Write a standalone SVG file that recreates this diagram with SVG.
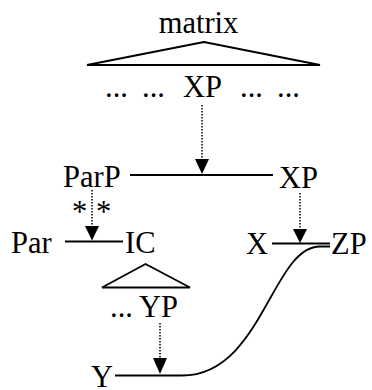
<svg xmlns="http://www.w3.org/2000/svg" width="372" height="390" viewBox="0 0 372 390">
<style>
text{font-family:"Liberation Serif","Times New Roman",serif;font-size:30.5px;fill:#000}
.ln{fill:none;stroke:#000;stroke-width:1.8}
.dot{fill:none;stroke:#000;stroke-width:1.5;stroke-dasharray:1.5 1.5}
.hd{fill:#000}
</style>
<rect width="372" height="390" fill="#fff"/>
<g id="matrix">
<text x="198.5" y="33" text-anchor="middle">matrix</text>
<polygon class="ln" points="204,42 87,65 320,65"/>
</g>
<g id="xp-top">
<text y="97"><tspan x="105">...</tspan><tspan x="142">...</tspan><tspan x="183">XP</tspan><tspan x="240">...</tspan><tspan x="277">...</tspan></text>
</g>
<g id="parp"><text x="63" y="187">ParP</text></g>
<g id="xp-mid"><text x="279" y="188">XP</text></g>
<g id="stars"><text x="72" y="222">*</text><text x="96" y="222">*</text></g>
<g id="par"><text x="11" y="253">Par</text></g>
<g id="ic">
<text x="125" y="253">IC</text>
<polygon class="ln" points="145.5,264 102,287.5 190,287.5"/>
</g>
<g id="x"><text x="246" y="254">X</text></g>
<g id="zp"><text x="331" y="254">ZP</text></g>
<g id="yp"><text y="317"><tspan x="110">...</tspan><tspan x="139">YP</tspan></text></g>
<g id="y"><text x="91" y="387">Y</text></g>
<g id="connectors">
<line class="ln" x1="130" y1="175" x2="273" y2="175"/>
<line class="ln" x1="65" y1="241.5" x2="123" y2="241.5"/>
<line class="ln" x1="272" y1="243.5" x2="330" y2="243.5"/>
<path class="ln" d="M115,375.5 L182,375.5 C262,375.5 272,246.5 320,246.5 L330,246.5"/>
<line class="dot" x1="202" y1="105" x2="202" y2="160"/>
<polygon class="hd" points="195,159 209,159 202,174"/>
<line class="dot" x1="92" y1="190" x2="92" y2="227"/>
<polygon class="hd" points="85,226 99,226 92,240.5"/>
<line class="dot" x1="300" y1="193" x2="300" y2="230"/>
<polygon class="hd" points="293,229 307,229 300,243"/>
<line class="dot" x1="160" y1="323" x2="160" y2="359"/>
<polygon class="hd" points="153,358 167,358 160,374"/>
</g>
</svg>
